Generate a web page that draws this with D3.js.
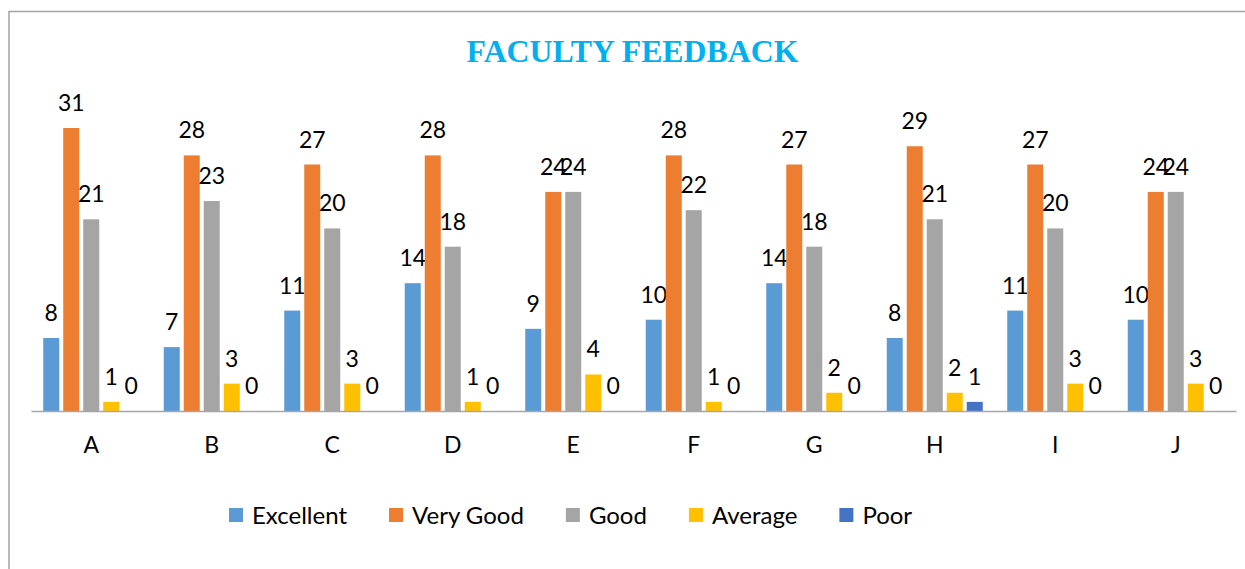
<!DOCTYPE html>
<html>
<head>
<meta charset="utf-8">
<script src="https://cdn.jsdelivr.net/npm/d3@7"></script>
<style>
  body { margin: 0; background: #fff; }
  svg { display: block; }
</style>
</head>
<body>
<script>
// chart data
const categories = ["A", "B", "C", "D", "E", "F", "G", "H", "I", "J"];
const seriesNames = ["Excellent", "Very Good", "Good", "Average", "Poor"];
const excellent = [8, 7, 11, 14, 9, 10, 14, 8, 11, 10];
const veryGood  = [31, 28, 27, 28, 24, 28, 27, 29, 27, 24];
const good      = [21, 23, 20, 18, 24, 22, 18, 21, 20, 24];
const average   = [1, 3, 3, 1, 4, 1, 2, 2, 3, 3];
const poor      = [0, 0, 0, 0, 0, 0, 0, 1, 0, 0];
const seriesValues = [excellent, veryGood, good, average, poor];
const colors = ["#5B9BD5", "#ED7D31", "#A5A5A5", "#FFC000", "#4472C4"];

const width = 1245;
const height = 569;
const labelFont = "Lato, 'Open Sans', sans-serif";

const svg = d3.select("body").append("svg")
  .attr("width", width)
  .attr("height", height);

// outer chart border (runs past the right and bottom edges)
svg.append("rect")
  .attr("x", 9)
  .attr("y", 11.5)
  .attr("width", 1400)
  .attr("height", 700)
  .attr("fill", "none")
  .attr("stroke", "#A3A3A3")
  .attr("stroke-width", 1.5);

// title
svg.append("text")
  .attr("x", 632.5)
  .attr("y", 62)
  .attr("text-anchor", "middle")
  .style("font-family", "'Liberation Serif', 'Times New Roman', serif")
  .style("font-weight", "bold")
  .style("font-size", "31.8px")
  .style("fill", "#00B0F0")
  .text("FACULTY FEEDBACK");

// scales
const x0 = d3.scaleBand()
  .domain(categories)
  .range([31, 1236])
  .paddingInner(0.17)
  .paddingOuter(0.085);

const x1 = d3.scaleBand()
  .domain(seriesNames)
  .range([0, x0.bandwidth()])
  .paddingInner(0.2)
  .paddingOuter(0.1);

const y = d3.scaleLinear()
  .domain([0, 31])
  .range([411, 128]);

// bars + labels
const groups = svg.append("g")
  .selectAll("g")
  .data(categories)
  .join("g")
  .attr("transform", d => `translate(${x0(d)},0)`);

const cells = groups.selectAll("g")
  .data((c, i) => seriesNames.map((s, k) => ({ series: s, k: k, value: seriesValues[k][i] })))
  .join("g");

cells.append("rect")
  .attr("x", d => x1(d.series))
  .attr("width", x1.bandwidth())
  .attr("y", d => y(d.value))
  .attr("height", d => y(0) - y(d.value))
  .attr("fill", d => colors[d.k]);

cells.append("text")
  .attr("x", d => x1(d.series) + x1.bandwidth() / 2)
  .attr("y", d => y(d.value) - 17)
  .attr("text-anchor", "middle")
  .style("font-family", labelFont)
  .style("font-size", "23px")
  .style("fill", "#000")
  .text(d => d.value);

// x axis
const xAxis = svg.append("g")
  .attr("transform", `translate(0,${y(0)})`)
  .call(d3.axisBottom(x0).tickSize(0).tickPadding(26));

xAxis.select(".domain")
  .attr("stroke", "#A6A6A6")
  .attr("stroke-width", 1.5);

xAxis.selectAll("text")
  .style("font-family", labelFont)
  .style("font-size", "23px")
  .style("fill", "#000");

// legend
const legend = svg.append("g").attr("transform", "translate(229,508)");
let lx = 0;
seriesNames.forEach((name, k) => {
  const item = legend.append("g").attr("transform", `translate(${lx},0)`);
  item.append("rect")
    .attr("width", 14)
    .attr("height", 14)
    .attr("fill", colors[k]);
  const t = item.append("text")
    .attr("x", 23)
    .attr("y", 15.5)
    .style("font-family", labelFont)
    .style("font-size", "24px")
    .style("fill", "#000")
    .text(name);
  lx += 23 + t.node().getComputedTextLength() + 42;
});
</script>
</body>
</html>
